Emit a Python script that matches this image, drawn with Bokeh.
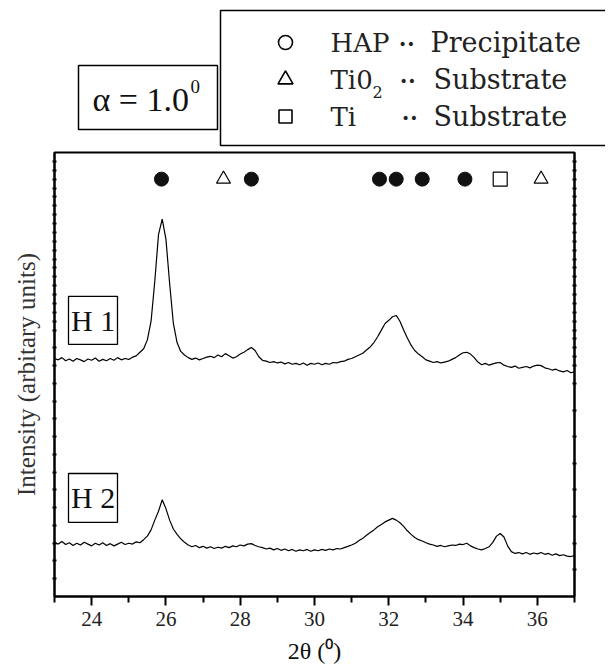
from bokeh.plotting import figure
from bokeh.models import Range1d, LinearAxis, FixedTicker, BoxAnnotation, Label, CustomJSTickFormatter
from bokeh.layouts import column
from bokeh.embed import file_html
from bokeh.resources import INLINE
from bokeh.core.properties import value

# ---------------- data ----------------
two_theta = [
    23.0, 23.1, 23.2, 23.3, 23.4, 23.5, 23.6, 23.7, 23.8, 23.9,
    24.0, 24.1, 24.2, 24.3, 24.4, 24.5, 24.6, 24.7, 24.8, 24.9,
    25.0, 25.1, 25.2, 25.3, 25.4, 25.5, 25.6, 25.7, 25.8, 25.9,
    26.0, 26.1, 26.2, 26.3, 26.4, 26.5, 26.6, 26.7, 26.8, 26.9,
    27.0, 27.1, 27.2, 27.3, 27.4, 27.5, 27.6, 27.7, 27.8, 27.9,
    28.0, 28.1, 28.2, 28.3, 28.4, 28.5, 28.6, 28.7, 28.8, 28.9,
    29.0, 29.1, 29.2, 29.3, 29.4, 29.5, 29.6, 29.7, 29.8, 29.9,
    30.0, 30.1, 30.2, 30.3, 30.4, 30.5, 30.6, 30.7, 30.8, 30.9,
    31.0, 31.1, 31.2, 31.3, 31.4, 31.5, 31.6, 31.7, 31.8, 31.9,
    32.0, 32.1, 32.2, 32.3, 32.4, 32.5, 32.6, 32.7, 32.8, 32.9,
    33.0, 33.1, 33.2, 33.3, 33.4, 33.5, 33.6, 33.7, 33.8, 33.9,
    34.0, 34.1, 34.2, 34.3, 34.4, 34.5, 34.6, 34.7, 34.8, 34.9,
    35.0, 35.1, 35.2, 35.3, 35.4, 35.5, 35.6, 35.7, 35.8, 35.9,
    36.0, 36.1, 36.2, 36.3, 36.4, 36.5, 36.6, 36.7, 36.8, 36.9,
    37.0,
]

h1_intensity = [
    5.36, 5.33, 5.38, 5.31, 5.35, 5.30, 5.36, 5.33, 5.29, 5.35,
    5.32, 5.37, 5.30, 5.34, 5.31, 5.36, 5.32, 5.38, 5.33, 5.36,
    5.34, 5.39, 5.42, 5.50, 5.58, 5.78, 6.20, 7.10, 8.15, 8.50,
    8.05, 7.05, 6.15, 5.72, 5.52, 5.44, 5.38, 5.34, 5.37, 5.33,
    5.36, 5.39, 5.41, 5.38, 5.44, 5.40, 5.47, 5.42, 5.37, 5.40,
    5.46, 5.50, 5.56, 5.61, 5.54, 5.40, 5.32, 5.30, 5.27, 5.29,
    5.26, 5.28, 5.24, 5.27, 5.23, 5.25, 5.22, 5.26, 5.21, 5.25,
    5.23, 5.26, 5.22, 5.25, 5.23, 5.27, 5.26, 5.29, 5.30, 5.34,
    5.36, 5.40, 5.44, 5.48, 5.55, 5.62, 5.72, 5.85, 6.00, 6.15,
    6.22, 6.30, 6.33, 6.20, 6.00, 5.82, 5.66, 5.54, 5.46, 5.40,
    5.33, 5.30, 5.27, 5.29, 5.26, 5.28, 5.30, 5.34, 5.38, 5.44,
    5.49, 5.50, 5.46, 5.38, 5.28, 5.22, 5.25, 5.21, 5.24, 5.26,
    5.27, 5.21, 5.18, 5.16, 5.19, 5.14, 5.16, 5.18, 5.15, 5.19,
    5.21, 5.20, 5.15, 5.13, 5.10, 5.12, 5.08, 5.06, 5.09, 5.04,
    5.06,
]

h2_intensity = [
    1.22, 1.18, 1.24, 1.17, 1.21, 1.15, 1.20, 1.16, 1.22, 1.18,
    1.14, 1.20, 1.16, 1.21, 1.15, 1.19, 1.14, 1.18, 1.22, 1.17,
    1.20, 1.18, 1.23, 1.21, 1.28, 1.36, 1.50, 1.72, 1.92, 2.18,
    1.98, 1.72, 1.52, 1.40, 1.30, 1.22, 1.16, 1.12, 1.15, 1.10,
    1.13, 1.09, 1.12, 1.08, 1.11, 1.09, 1.13, 1.10, 1.14, 1.12,
    1.16, 1.14, 1.18, 1.19, 1.15, 1.12, 1.10, 1.07, 1.09, 1.05,
    1.08, 1.04, 1.07, 1.03, 1.06, 1.02, 1.05, 1.03, 1.06, 1.02,
    1.05, 1.03, 1.06, 1.04, 1.07, 1.05, 1.08, 1.07, 1.10, 1.13,
    1.16, 1.20, 1.26, 1.31, 1.38, 1.44, 1.50, 1.57, 1.62, 1.68,
    1.72, 1.76, 1.72, 1.66, 1.58, 1.48, 1.40, 1.33, 1.28, 1.25,
    1.21, 1.18, 1.16, 1.13, 1.15, 1.12, 1.14, 1.16, 1.15, 1.18,
    1.17, 1.20, 1.14, 1.10, 1.07, 1.05, 1.08, 1.12, 1.22, 1.36,
    1.42, 1.34, 1.14, 1.01, 0.97, 0.99, 0.96, 0.99, 0.95, 0.98,
    0.96, 0.99, 0.95, 0.97, 0.93, 0.96, 0.92, 0.94, 0.91, 0.90,
    0.92,
]

hap_peaks = [25.88, 28.3, 31.75, 32.2, 32.9, 34.05]
tio2_peaks = [27.55, 36.1]
ti_peaks = [35.0]
marker_row = 9.4

x_ticks = [24, 26, 28, 30, 32, 34, 36]
x_minor = [23, 25, 27, 29, 31, 33, 35, 37]

left_ticks = [0.4, 0.8, 1.2, 1.6, 2.0, 2.4, 2.8, 3.2, 3.6, 4.0, 4.4, 4.8, 5.2, 5.6,
              6.0, 6.2, 6.4, 6.6, 6.8, 7.0, 7.2, 7.4, 7.6, 7.8, 8.0, 8.2, 8.4, 8.6,
              8.8, 9.0, 9.2, 9.4, 9.6, 9.8]
right_ticks = [0.6, 1.2, 1.8, 2.4, 3.0, 3.6, 4.2, 4.8, 5.2, 5.4, 5.6, 5.8, 6.0, 6.2,
               6.4, 6.6, 6.8, 7.0, 7.2, 7.4, 7.6, 7.8, 8.0, 8.2, 8.4, 8.6, 8.8, 9.0,
               9.2, 9.4, 9.6, 9.8]

SERIF = "Liberation Serif"
LEG = "DejaVu Serif"

# ---------------- top panel (legend & alpha box), pixel coordinates ----------------
top = figure(width=605, height=148, x_range=Range1d(0, 605), y_range=Range1d(148, 0),
             output_backend="svg", toolbar_location=None, min_border=0,
             min_border_left=0, min_border_right=0, min_border_top=0, min_border_bottom=0,
             x_axis_type=None, y_axis_type=None, outline_line_color=None)
top.frame_align = False
top.xgrid.visible = False
top.ygrid.visible = False

top.quad(left=[220], right=[660], top=[10], bottom=[145], fill_color="white",
         line_color="black", line_width=1.5)
top.quad(left=[78], right=[217], top=[65], bottom=[129], fill_color="white",
         line_color="black", line_width=1.5)

top.scatter(x=[285], y=[42], marker="circle", size=14, fill_color=None,
            line_color="black", line_width=1.6)
top.scatter(x=[285], y=[79], marker="triangle", size=15, fill_color=None,
            line_color="black", line_width=1.6)
top.scatter(x=[285], y=[116], marker="square", size=13, fill_color=None,
            line_color="black", line_width=1.6)

top.text(x=[330, 330, 330], y=[42, 79, 116], text=["HAP", "Ti0", "Ti"],
         text_font=value(LEG), text_font_size="26px", text_baseline="middle",
         text_align="left", text_color="#222222")
top.text(x=[372], y=[91], text=["2"], text_font=value(LEG), text_font_size="16px",
         text_baseline="middle", text_align="left", text_color="#222222")
top.text(x=[398, 399, 401], y=[43, 80, 117], text=["••", "••", "••"],
         text_font=value("DejaVu Sans"), text_font_size="14px", text_baseline="middle",
         text_align="left", text_color="#222222")
top.text(x=[430, 433, 433], y=[42, 79, 116], text=["Precipitate", "Substrate", "Substrate"],
         text_font=value(LEG), text_font_size="27px", text_baseline="middle",
         text_align="left", text_color="#222222")

top.text(x=[92], y=[99], text=["α = 1.0"], text_font=value(SERIF),
         text_font_size="34px", text_baseline="middle", text_align="left",
         text_color="#111111")
top.text(x=[190], y=[86], text=["0"], text_font=value(SERIF),
         text_font_size="19px", text_baseline="middle", text_align="left",
         text_color="#111111")

# ---------------- main plot ----------------
p = figure(width=605, height=522, x_range=Range1d(23, 37), y_range=Range1d(0, 10),
           output_backend="svg", toolbar_location=None,
           min_border_left=54, min_border_right=31, min_border_top=4, min_border_bottom=74)
p.frame_align = False
p.xgrid.visible = False
p.ygrid.visible = False
p.outline_line_color = "black"
p.outline_line_width = 2

xa = p.xaxis[0]
xa.ticker = FixedTicker(ticks=x_ticks, minor_ticks=x_minor)
xa.major_tick_out = 9
xa.major_tick_in = 0
xa.minor_tick_out = 6
xa.minor_tick_in = 0
xa.major_tick_line_width = 2
xa.minor_tick_line_width = 2
xa.axis_line_width = 2
xa.major_label_text_font = SERIF
xa.major_label_text_font_size = "21px"
xa.major_label_text_color = "#222222"
xa.major_label_standoff = 6
xa.axis_label = "2θ (⁰)"
xa.axis_label_text_font = SERIF
xa.axis_label_text_font_size = "24px"
xa.axis_label_text_font_style = "normal"
xa.axis_label_text_color = "#111111"
xa.axis_label_standoff = 9

ya = p.yaxis[0]
ya.ticker = FixedTicker(ticks=left_ticks, minor_ticks=[])
ya.formatter = CustomJSTickFormatter(code="return '';")
ya.major_tick_in = 2
ya.major_tick_out = 2
ya.major_tick_line_width = 2
ya.minor_tick_line_color = None
ya.axis_line_width = 2
ya.major_label_standoff = 0
ya.axis_label = "Intensity (arbitary units)"
ya.axis_label_text_font = SERIF
ya.axis_label_text_font_size = "25px"
ya.axis_label_text_font_style = "normal"
ya.axis_label_text_color = "#333333"
ya.axis_label_standoff = 13

ra = LinearAxis(ticker=FixedTicker(ticks=right_ticks, minor_ticks=[]),
                formatter=CustomJSTickFormatter(code="return '';"),
                major_tick_in=2, major_tick_out=2, major_tick_line_width=2,
                minor_tick_line_color=None, axis_line_width=2, major_label_standoff=0)
p.add_layout(ra, "right")

p.line(two_theta, h1_intensity, line_color="black", line_width=1.2)
p.line(two_theta, h2_intensity, line_color="black", line_width=1.2)

p.scatter(hap_peaks, [marker_row] * len(hap_peaks), marker="circle", size=14,
          fill_color="#111111", line_color="#111111")
p.scatter(tio2_peaks, [marker_row] * len(tio2_peaks), marker="triangle", size=14,
          fill_color="white", line_color="black", line_width=1.2)
p.scatter(ti_peaks, [marker_row] * len(ti_peaks), marker="square", size=14,
          fill_color="white", line_color="black", line_width=1.2)

for (b, t, name, cy) in [(5.68, 6.76, "H 1", 6.22), (1.67, 2.77, "H 2", 2.22)]:
    p.add_layout(BoxAnnotation(left=23.377, right=24.696, bottom=b, top=t,
                               fill_color="white", fill_alpha=1.0,
                               line_color="black", line_alpha=1.0, line_width=1.3))
    p.add_layout(Label(x=24.04, y=cy, text=name, text_font=SERIF,
                       text_font_size="30px", text_align="center",
                       text_baseline="middle", text_color="#111111"))

layout = column(top, p, spacing=0)
open("out.html", "w").write(file_html(layout, INLINE))
